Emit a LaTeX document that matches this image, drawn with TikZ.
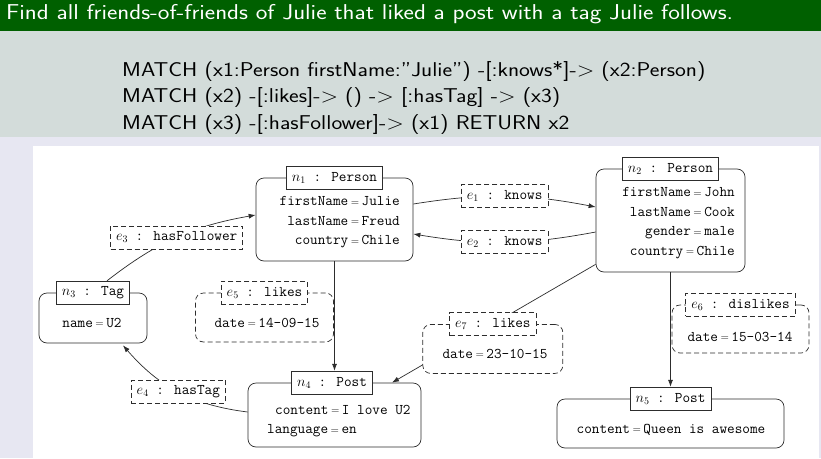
\documentclass[tikz,border=0pt]{standalone}
\usepackage{graphicx}
\usetikzlibrary{arrows.meta}
\definecolor{hdr}{RGB}{0,96,0}
\definecolor{blk}{RGB}{211,220,218}
\definecolor{lav}{RGB}{231,231,242}
\definecolor{ln}{RGB}{45,45,45}
\newcommand\eqs{\hspace{2.5pt}\raisebox{0.6pt}{\rmfamily\fontsize{11}{11}\selectfont=}\hspace{2.5pt}}
\newcommand\wide[1]{\scalebox{1.15}[1]{#1}}
\begin{document}
\begin{tikzpicture}[x=1pt,y=-1pt,
  tt/.style={font=\fontsize{14.8}{19.5}\selectfont\ttfamily, inner sep=0pt},
  ent/.style={draw=ln, line width=0.7pt, rounded corners=8pt, fill=white, inner sep=0pt},
  rrel/.style={ent, dash pattern=on 5pt off 3pt},
  tagbox/.style={tt, draw=ln, line width=0.7pt, fill=white, minimum height=23pt, inner xsep=5.5pt},
  rtag/.style={tagbox, dash pattern=on 5pt off 3pt},
  edge/.style={draw=ln, line width=0.7pt, -{Latex[length=7pt,width=5pt]}},
  big/.style={font=\fontsize{20}{24}\selectfont\sffamily, inner sep=0pt, anchor=base west}
]
\path[use as bounding box] (0,0) rectangle (821,458);
% background
\fill[lav] (0,137) rectangle (821,458);
\fill[hdr] (0,0) rectangle (821,31);
\fill[blk] (0,31) rectangle (821,137);
\fill[white] (33,146) rectangle (819,458);
% texts
\node[big, text=white, font=\fontsize{21.5}{24}\selectfont\sffamily] (title) at (6,19.5) {\wide{Find all friends-of-friends of Julie that liked a post with a tag Julie follows.}};
\node[big] (q1) at (122,76) {\wide{MATCH (x1:Person firstName:”Julie”) -[:knows*]-> (x2:Person)}};
\node[big] (q2) at (122,102.5) {\wide{MATCH (x2) -[:likes]-> () -> [:hasTag] -> (x3)}};
\node[big] (q3) at (122,129) {\wide{MATCH (x3) -[:hasFollower]-> (x1) RETURN x2}};
% entity nodes
\node[ent, minimum width=157pt, minimum height=83pt] (n1) at (334.5,219.5) {};
\node[ent, minimum width=149pt, minimum height=103pt] (n2) at (670.5,220.5) {};
\node[ent, minimum width=108pt, minimum height=50pt] (n3) at (93,318) {};
\node[ent, minimum width=173pt, minimum height=64pt] (n4) at (334.5,415) {};
\node[ent, minimum width=227pt, minimum height=49pt] (n5) at (670.5,423.5) {};
\node[tagbox] (n1l) at (n1.north) {$n_1$ : Person};
\node[tagbox] (n2l) at (n2.north) {$n_2$ : Person};
\node[tagbox] (n3l) at (n3.north) {$n_3$ : Tag};
\node[tagbox] (n4l) at ([xshift=-2.5pt]n4.north) {$n_4$ : Post};
\node[tagbox] (n5l) at (n5.north) {$n_5$ : Post};
\node[tt, anchor=east, align=right] (n1t) at (400,222.5) {firstName\eqs Julie\\lastName\eqs Freud\\country\eqs Chile};
\node[tt, anchor=east, align=right] (n2t) at (735,223) {firstName\eqs John\\lastName\eqs Cook\\gender\eqs male\\country\eqs Chile};
\node[tt] (n3t) at (92,323) {name\eqs U2};
\node[tt, anchor=west] (n4a) at (275,410) {content\eqs I love U2};
\node[tt, anchor=west] (n4b) at (267,431) {language\eqs en};
\node[tt] (n5t) at (671,430) {content\eqs Queen is awesome};
% edge property boxes beside lines
\node[rrel, minimum width=138pt, minimum height=49pt] (e5r) at (264.5,317.5) {};
\node[rtag] (e5) at (e5r.north) {$e_5$ : likes};
\node[tt] (e5t) at (267,323) {date\eqs 14-09-15};
\node[rrel, minimum width=137pt, minimum height=48pt] (e6r) at (740.5,329) {};
\node[rtag] (e6) at (e6r.north) {$e_6$ : dislikes};
\node[tt] (e6t) at (740,337) {date\eqs 15-03-14};
% edges
\draw[edge] ([yshift=15.5pt]n1.east) to[bend left=10] node[rtag] (e1) {$e_1$ : knows} ([yshift=13.5pt]n2.west);
\draw[edge] ([yshift=-11.5pt]n2.west) to[bend left=10] node[rtag] (e2) {$e_2$ : knows} ([yshift=-14.5pt]n1.east);
\draw[edge] ([xshift=14pt]n3l.north) to[bend left=14] node[rtag] (e3) {$e_3$ : hasFollower} ([yshift=4.5pt]n1.west);
\draw[edge] ([yshift=3pt]n4.west) to[bend left=21] node[rtag] (e4) {$e_4$ : hasTag} ([xshift=30pt,yshift=-2pt]n3.south);
\draw[edge] (n1.south) -- (n1.south |- n4l.north);
\draw[edge] (n2.south) -- (n2.south |- n5l.north);
\draw[edge] ([yshift=8pt]n2.south west) -- coordinate[pos=0.505] (e7c) ([xshift=57.5pt]n4.north);
% e7 box on its line
\node[rrel, minimum width=140pt, minimum height=49pt, anchor=north] (e7r) at (e7c) {};
\node[rtag] (e7) at (e7r.north) {$e_7$ : likes};
\node[tt] (e7t) at (495,354) {date\eqs 23-10-15};
\end{tikzpicture}
\end{document}
